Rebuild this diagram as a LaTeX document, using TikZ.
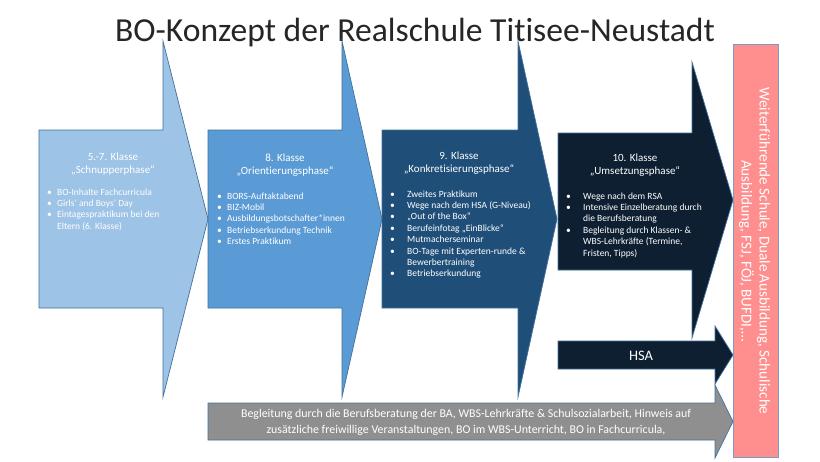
\documentclass[tikz,border=0pt]{standalone}
\usepackage{fontspec}
\setmainfont{Carlito}[Ligatures={TeX,NoCommon}]
\definecolor{cA}{HTML}{9DC3E6}
\definecolor{cB}{HTML}{5B9BD5}
\definecolor{cC}{HTML}{1F4E79}
\definecolor{cD}{HTML}{0E1F31}
\definecolor{cGrey}{HTML}{8F8F8F}
\definecolor{cPink}{HTML}{FF8F8F}
\definecolor{edgeblue}{HTML}{41719C}
\definecolor{pinkedge}{HTML}{7A9CC6}
\newcommand\bitem[2]{\par\noindent\hangindent=#1\hangafter=1\makebox[#1][l]{•}#2}
\begin{document}
\begin{tikzpicture}[x=1pt,y=-1pt]
\tikzset{
  arr/.style={draw=edgeblue, line width=0.7pt, line join=miter},
  headtxt/.style={inner sep=0pt, text=white, font=\fontsize{11}{13}\selectfont},
  listtxt/.style={inner sep=0pt, text=white, font=\fontsize{9.5}{11.4}\selectfont},
}
\useasboundingbox (0,0) rectangle (820,461);
\fill[white] (0,0) rectangle (820,461);

% title
\node[inner sep=0pt, anchor=base, font=\fontsize{33.6}{40}\selectfont, text=black!85] (title) at (415,41) {BO-Konzept der Realschule Titisee-Neustadt};

% grey bottom arrow
\path[arr, fill=cGrey] (208,403) -- (715,403) -- (715,385) -- (733,421.5) -- (715,458) -- (715,440) -- (208,440) -- cycle;
% arrow 1
\path[arr, fill=cA] (39,130) -- (163,130) -- (163,41) -- (208,219) -- (163,397) -- (163,308) -- (39,308) -- cycle;
% arrow 2
\path[arr, fill=cB] (208,130) -- (342,130) -- (342,41) -- (382,219) -- (342,397) -- (342,308) -- (208,308) -- cycle;
% arrow 3
\path[arr, fill=cC] (382,130) -- (518,130) -- (518,41) -- (557,219) -- (518,397) -- (518,308) -- (382,308) -- cycle;
% arrow 4
\path[arr, fill=cD] (558,133) -- (692,133) -- (692,62) -- (733,200) -- (692,338) -- (692,270) -- (558,270) -- cycle;
% HSA arrow
\path[arr, fill=cD] (558,341) -- (715,341) -- (715,326) -- (733,355) -- (715,384) -- (715,369) -- (558,369) -- cycle;
% pink box
\path[draw=pinkedge, line width=0.7pt, fill=cPink] (733,44) rectangle (778,457);

% headings
\node[headtxt, anchor=base] (h1) at (113,160) {\parbox[t]{140pt}{\centering 5.-7. Klasse\\„Schnupperphase“}};
\node[headtxt, anchor=base] (h2) at (285,161) {\parbox[t]{140pt}{\centering 8. Klasse\\„Orientierungsphase“}};
\node[headtxt, anchor=base] (h3) at (459,159) {\parbox[t]{140pt}{\centering 9. Klasse\\„Konkretisierungsphase“}};
\node[headtxt, anchor=base] (h4) at (635,161) {\parbox[t]{140pt}{\centering 10. Klasse\\„Umsetzungsphase“}};

% lists
\node[listtxt, anchor=base west] (l1) at (47,195) {\parbox[t]{200pt}{%
\bitem{10pt}{BO-Inhalte Fachcurricula}%
\bitem{10pt}{Girls’ and Boys’ Day}%
\bitem{10pt}{Eintagespraktikum bei den\newline Eltern (6. Klasse)}}};
\node[listtxt, anchor=base west] (l2) at (217,199) {\parbox[t]{200pt}{%
\bitem{10pt}{BORS-Auftaktabend}%
\bitem{10pt}{BIZ-Mobil}%
\bitem{10pt}{Ausbildungsbotschafter*innen}%
\bitem{10pt}{Betriebserkundung Technik}%
\bitem{10pt}{Erstes Praktikum}}};
\node[listtxt, anchor=base west] (l3) at (390,197) {\parbox[t]{200pt}{%
\bitem{17pt}{Zweites Praktikum}%
\bitem{17pt}{Wege nach dem HSA (G-Niveau)}%
\bitem{17pt}{„Out of the Box“}%
\bitem{17pt}{Berufeinfotag „EinBlicke“}%
\bitem{17pt}{Mutmacherseminar}%
\bitem{17pt}{BO-Tage mit Experten-runde \&\newline Bewerbertraining}%
\bitem{17pt}{Betriebserkundung}}};
\node[listtxt, anchor=base west] (l4) at (566,199) {\parbox[t]{200pt}{%
\bitem{17pt}{Wege nach dem RSA}%
\bitem{17pt}{Intensive Einzelberatung durch\newline die Berufsberatung}%
\bitem{17pt}{Begleitung durch Klassen- \&\newline WBS-Lehrkräfte (Termine,\newline Fristen, Tipps)}}};

% HSA
\node[inner sep=0pt, anchor=base, text=white, font=\fontsize{14.5}{16}\selectfont] (hsa) at (641,360) {HSA};

% grey text
\node[inner sep=0pt, anchor=base, text=white, font=\fontsize{11.9}{16}\selectfont] (grey) at (466,417) {\parbox[t]{540pt}{\centering Begleitung durch die Berufsberatung der BA, WBS-Lehrkräfte \& Schulsozialarbeit, Hinweis auf\\zusätzliche freiwillige Veranstaltungen, BO im WBS-Unterricht, BO in Fachcurricula,}};

% pink text
\node[inner sep=0pt, rotate=-90, text=white, align=center, font=\fontsize{15.1}{18}\selectfont] (pink) at (754.5,251) {Weiterführende Schule, Duale Ausbildung, Schulische\\Ausbildung, FSJ, FÖJ, BUFDI,…};
\end{tikzpicture}
\end{document}
